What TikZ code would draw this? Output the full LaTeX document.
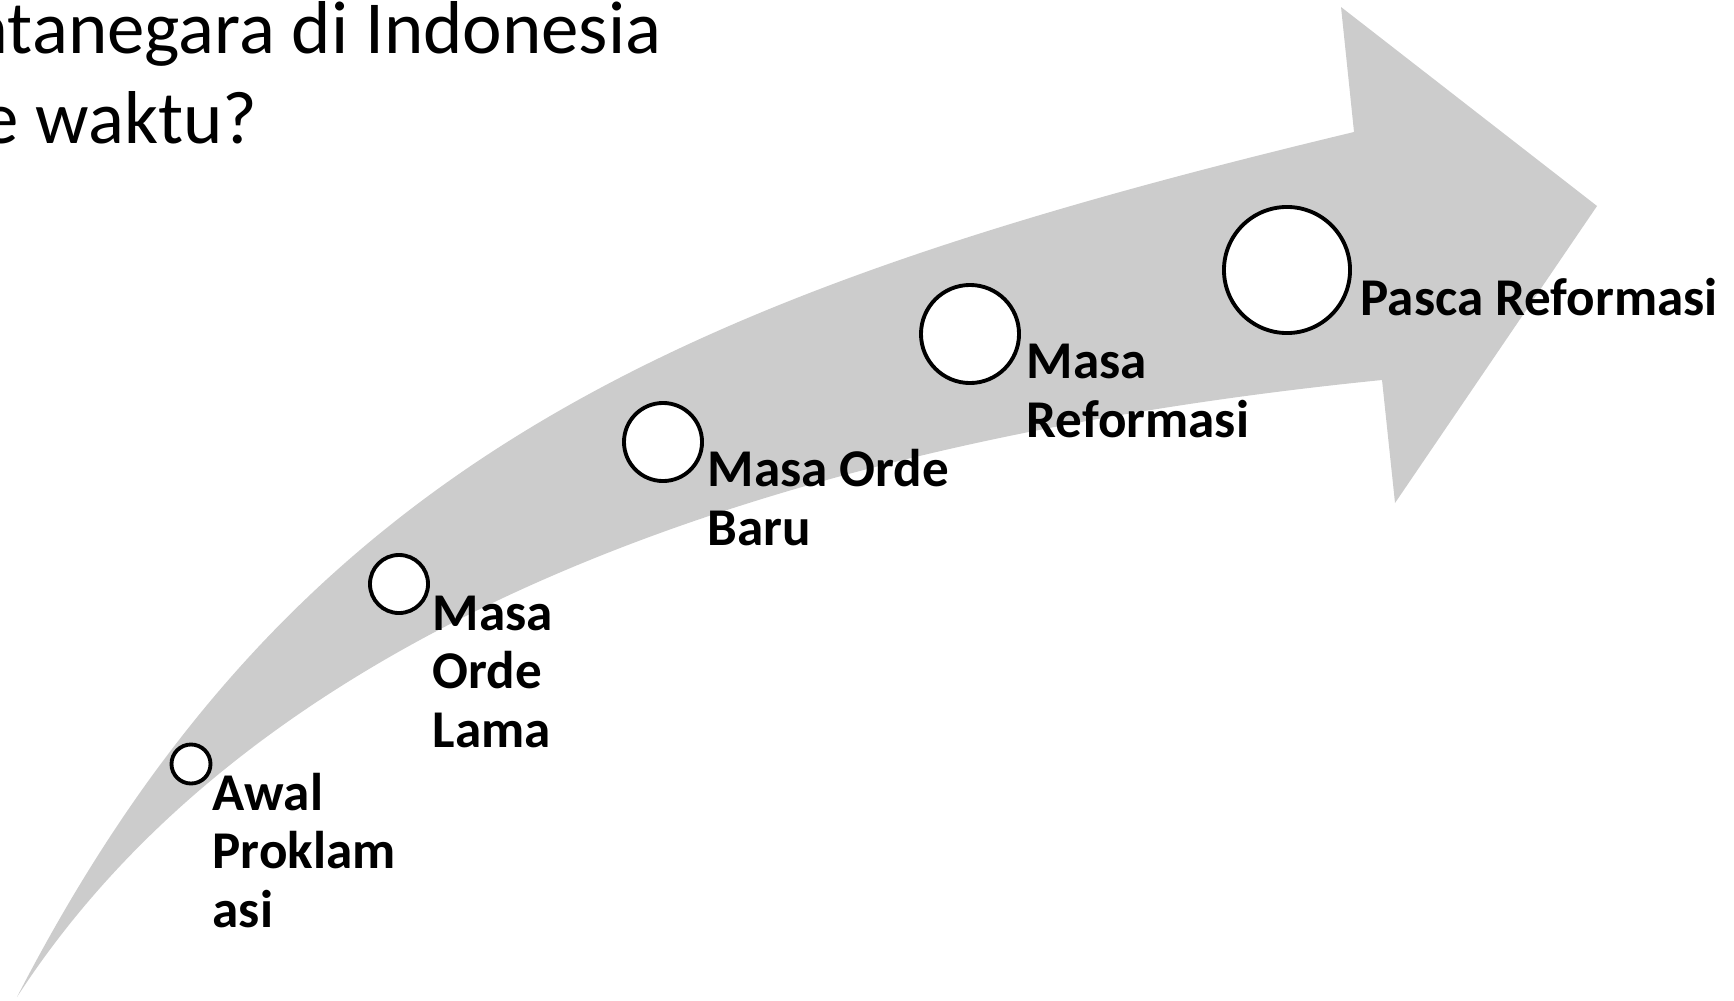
\documentclass[tikz,border=0pt]{standalone}
\usepackage{fontspec}
\setmainfont{Carlito}
\usepackage{tikz}

\definecolor{abu}{RGB}{204,204,204}

\begin{document}
\begin{tikzpicture}[x=0.01cm, y=-0.01cm,
  titik/.style={circle, draw=black, fill=white, line width=1.1pt, inner sep=0pt},
  ket/.style={anchor=base west, inner sep=0pt, align=left,
    font=\fontsize{15.1}{16.5}\selectfont\bfseries},
  judul/.style={anchor=base east, inner sep=0pt,
    font=\fontsize{21.3}{25}\selectfont}]
  \useasboundingbox (0,0) rectangle (1734,1000);

  % Judul
  \node[judul] (judul1) at (662,53) {atanegara di Indonesia};
  \node[judul] (judul2) at (258,143) {e waktu?};

  % Panah
  \fill[abu] (17,997) .. controls (292,464) and (674,295) .. (1354,132)
    -- (1341,7) -- (1597,206) -- (1395,503) -- (1382,380)
    .. controls (785,440) and (262,619) .. (17,997) -- cycle;

  % Lingkaran
  \node[titik, minimum size=3.9mm] (c1) at (191,764) {};
  \node[titik, minimum size=5.8mm] (c2) at (399,584) {};
  \node[titik, minimum size=7.8mm] (c3) at (663,442) {};
  \node[titik, minimum size=9.8mm] (c4) at (970,334) {};
  \node[titik, minimum size=12.6mm] (c5) at (1287,270) {};

  % Keterangan (titik acuan = garis dasar baris terakhir)
  \node[ket] (awal) at (212,927) {Awal\\Proklam\\asi};
  \node[ket] (lama) at (432,747) {Masa\\Orde\\Lama};
  \node[ket] (baru) at (707,545) {Masa Orde\\Baru};
  \node[ket] (reformasi) at (1026,437) {Masa\\Reformasi};
  \node[ket] (pasca) at (1360,315) {Pasca Reformasi};
\end{tikzpicture}
\end{document}
